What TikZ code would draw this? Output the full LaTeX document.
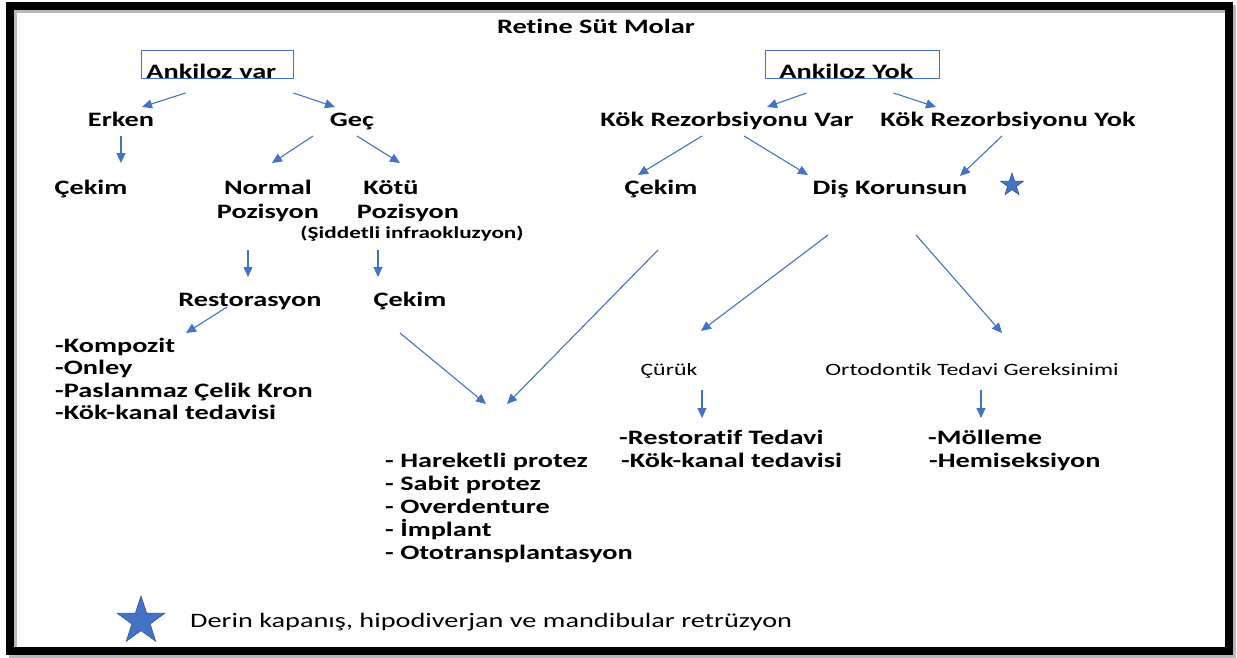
\documentclass[tikz,border=0pt]{standalone}
\usepackage{fontspec}
\setmainfont{Carlito}[FakeStretch=1.38, Ligatures=NoCommon]
\usepackage{xcolor}
\definecolor{okmavi}{HTML}{4472C4}
\definecolor{yildiz}{HTML}{4472C4}
\definecolor{yildizcizgi}{HTML}{2F5597}
\usetikzlibrary{shapes.geometric, arrows.meta, calc}

\tikzset{
  yazi/.style={font=\fontsize{20.5}{24}\selectfont\bfseries, inner sep=0pt, anchor=base},
  liste/.style={yazi, anchor=base west},
  kucuk/.style={font=\fontsize{16.8}{19}\selectfont\bfseries, inner sep=0pt, anchor=base},
  ince/.style={font=\fontsize{17.3}{20}\selectfont, inner sep=0pt, anchor=base},
  kutu/.style={draw=okmavi, line width=0.9pt, font=\fontsize{20.5}{24}\selectfont\bfseries,
    inner ysep=0pt, text height=28pt, text depth=0pt, align=left, anchor=south west},
  ok/.style={draw=okmavi, line width=1.1pt, -{Triangle[length=10pt,width=9pt]}, color=okmavi},
  yildizim/.style={star, star points=5, star point ratio=2.6, fill=yildiz, draw=yildizcizgi,
    line width=0.6pt, inner sep=0pt}
}

\begin{document}
\begin{tikzpicture}[x=1pt, y=-1pt]
  \useasboundingbox (0,0) rectangle (1237,657);
  % cerceve
  \draw[gray!55, line width=8pt] (13,8.5) rectangle (1232,654);
  \draw[black, line width=8pt] (10,5.5) rectangle (1229,651);

  \node[yazi] (baslik) at (596,33.5) {Retine Süt Molar};

  % sol dal
  \node[kutu, inner xsep=5pt, text width=142pt] (ankvar) at (141,79) {Ankiloz var};
  \node[yazi] (erken) at (121,126.5) {Erken};
  \node[yazi] (gec) at (352,126.5) {Geç};
  \node[yazi] (cekimA) at (91,194.5) {Çekim};
  \node[yazi] (normal) at (268,194.5) {Normal};
  \node[yazi] (normalb) at (268,218.5) {Pozisyon};
  \node[yazi] (kotu) at (391,194.5) {Kötü};
  \node[yazi] (kotub) at (408,218.5) {Pozisyon};
  \node[kucuk] (siddet) at (412,238) {(Şiddetli infraokluzyon)};
  \node[yazi] (restor) at (250,306.5) {Restorasyon};
  \node[yazi] (cekimB) at (410,306.5) {Çekim};
  \foreach \i/\t in {1/-Kompozit, 2/-Onley, 3/-Paslanmaz Çelik Kron, 4/-Kök-kanal tedavisi}
    \node[liste] (res\i) at (55, {352.5+(\i-1)*22.4}) {\t};
  \foreach \i/\t in {1/- Hareketli protez, 2/- Sabit protez, 3/- Overdenture, 4/- İmplant, 5/- Ototransplantasyon}
    \node[liste] (pro\i) at (385, {467.5+(\i-1)*23}) {\t};

  % sag dal
  \node[kutu, inner xsep=14pt, text width=146pt] (ankyok) at (765,79) {Ankiloz Yok};
  \node[yazi] (krv) at (727,126.5) {Kök Rezorbsiyonu Var};
  \node[yazi] (kry) at (1008,126.5) {Kök Rezorbsiyonu Yok};
  \node[yazi] (cekimC) at (661,194.5) {Çekim};
  \node[yazi] (dis) at (890,194.5) {Diş Korunsun};
  \node[yildizim, minimum size=24pt] (yildiz1) at (1012,185) {};
  \node[ince] (curuk) at (669,375.5) {Çürük};
  \node[ince] (orto) at (972,375.5) {Ortodontik Tedavi Gereksinimi};
  \node[liste] (rt1) at (619,444.5) {-Restoratif Tedavi};
  \node[liste] (rt2) at (621,467.5) {-Kök-kanal tedavisi};
  \node[liste] (mol1) at (928,444.5) {-Mölleme};
  \node[liste] (mol2) at (929,467.5) {-Hemiseksiyon};

  % aciklama
  \node[yildizim, minimum size=50pt] (yildiz2) at (141,621) {};
  \node[font=\fontsize{20.5}{24}\selectfont, inner sep=0pt, anchor=base west] (aciklama) at (190,627.5)
    {Derin kapanış, hipodiverjan ve mandibular retrüzyon};

  % oklar
  \draw[ok] ($(ankvar.south)+(-32,14)$) -- ($(erken.base)+(21,-19.5)$);
  \draw[ok] ($(ankvar.south)+(76,14)$) -- ($(gec.base)+(-17,-19.5)$);
  \draw[ok] ($(erken.base)+(0,9.5)$) -- ($(cekimA.base)+(30,-31.5)$);
  \draw[ok] ($(gec.base)+(-39,9.5)$) -- ($(normal.base)+(4,-31.5)$);
  \draw[ok] ($(gec.base)+(5,9.5)$) -- ($(kotu.base)+(9,-31.5)$);
  \draw[ok] ($(normalb.base)+(-20,31.5)$) -- ($(restor.base)+(-2,-29.5)$);
  \draw[ok] ($(siddet.base)+(-34,12)$) -- ($(cekimB.base)+(-32,-29.5)$);
  \draw[ok] ($(restor.base)+(-23,0.5)$) -- ($(res1.base west)+(131,-19.5)$);
  \draw[ok] ($(cekimB.base)+(-10,26.5)$) -- ($(pro1.base west)+(101,-63.5)$);
  \draw[ok] ($(cekimC.base)+(-3,55.5)$) -- ($(pro1.base west)+(122,-63.5)$);
  \draw[ok] ($(ankyok.south)+(-46,14)$) -- ($(krv.base)+(40,-19.5)$);
  \draw[ok] ($(ankyok.south)+(41,14)$) -- ($(kry.base)+(-72,-19.5)$);
  \draw[ok] ($(krv.base)+(-25,9.5)$) -- ($(cekimC.base)+(-23,-19.5)$);
  \draw[ok] ($(krv.base)+(17,9.5)$) -- ($(dis.base)+(-82,-19.5)$);
  \draw[ok] ($(kry.base)+(-6,9.5)$) -- ($(dis.base)+(70,-18.5)$);
  \draw[ok] ($(dis.base)+(-62,40.5)$) -- ($(curuk.base)+(32,-44.5)$);
  \draw[ok] ($(dis.base)+(26,40.5)$) -- ($(orto.base)+(30,-42.5)$);
  \draw[ok] ($(curuk.base)+(33,14.5)$) -- ($(rt1.base west)+(83,-26.5)$);
  \draw[ok] ($(orto.base)+(9,14.5)$) -- ($(mol1.base west)+(53,-26.5)$);
\end{tikzpicture}
\end{document}
